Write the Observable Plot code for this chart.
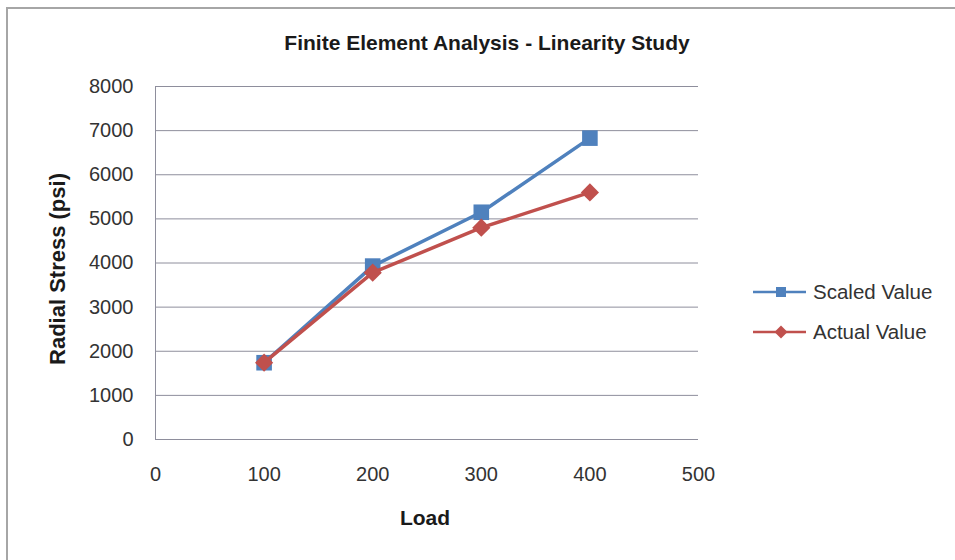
<!DOCTYPE html>
<html>
<head>
<meta charset="utf-8">
<script src="https://cdn.jsdelivr.net/npm/d3@7"></script>
<script src="https://cdn.jsdelivr.net/npm/@observablehq/plot@0.6"></script>
<style>
  html, body { margin: 0; padding: 0; background: #fff; }
  #wrap { position: relative; width: 955px; height: 560px; overflow: hidden; font-family: "Liberation Sans", Arial, sans-serif; }
  #frame { position: absolute; left: 6px; top: 7px; width: 1000px; height: 600px; border-left: 2px solid #a6a6a6; border-top: 2px solid #a6a6a6; box-sizing: border-box; }
  #chart { position: absolute; left: 0; top: 0; }
  .lbl { position: absolute; white-space: nowrap; color: #1a1a1a; font-weight: bold; font-size: 21px; }
  #title { left: 487px; top: 43px; transform: translate(-50%, -50%); }
  #xlabel { left: 425px; top: 518px; transform: translate(-50%, -50%); }
  #ylabel { left: 58px; top: 269px; font-size: 22px; transform: translate(-50%, -50%) rotate(-90deg); }
  #legend { position: absolute; left: 750px; top: 272px; }
  .leg { display: flex; align-items: center; height: 40px; font-size: 20.5px; color: #333; }
  .leg svg { margin-right: 5px; }
</style>
</head>
<body>
<div id="wrap">
  <div id="frame"></div>
  <div id="chart"></div>
  <div class="lbl" id="title">Finite Element Analysis - Linearity Study</div>
  <div class="lbl" id="xlabel">Load</div>
  <div class="lbl" id="ylabel">Radial Stress (psi)</div>
  <div id="legend"></div>
</div>
<script>
const loads = [100, 200, 300, 400];
const scaledValue = [1740, 3930, 5150, 6830];
const actualValue = [1740, 3780, 4800, 5600];
const seriesNames = ["Scaled Value", "Actual Value"];
const xTicks = [0, 100, 200, 300, 400, 500];
const yTicks = [0, 1000, 2000, 3000, 4000, 5000, 6000, 7000, 8000];

const blue = "#4f81bd";
const red = "#c0504d";

const scaled = loads.map((x, i) => ({x, y: scaledValue[i]}));
const actual = loads.map((x, i) => ({x, y: actualValue[i]}));

const chart = Plot.plot({
  width: 955,
  height: 560,
  marginLeft: 155,
  marginRight: 257,
  marginTop: 86,
  marginBottom: 121,
  style: {fontFamily: "'Liberation Sans', Arial, sans-serif", fontSize: "20px", color: "#333", background: "transparent", overflow: "visible"},
  x: {domain: [0, 500]},
  y: {domain: [0, 8000]},
  marks: [
    Plot.gridY(yTicks.filter(d => d > 0), {stroke: "#8e8e9c", strokeOpacity: 1, strokeWidth: 1}),
    Plot.ruleY([0], {stroke: "#8e8e9c"}),
    Plot.ruleX([0], {stroke: "#8e8e9c"}),
    Plot.axisX(xTicks, {tickSize: 0, tickPadding: 27, label: null, tickFormat: d => String(d), fill: "#333", fontSize: 20}),
    Plot.axisY(yTicks, {tickSize: 0, tickPadding: 22, label: null, tickFormat: d => String(d), fill: "#333", fontSize: 20}),
    Plot.line(scaled, {x: "x", y: "y", stroke: blue, strokeWidth: 3.5}),
    Plot.dot(scaled, {x: "x", y: "y", symbol: "square", r: 8.8, fill: blue, stroke: "none"}),
    Plot.line(actual, {x: "x", y: "y", stroke: red, strokeWidth: 3.5}),
    Plot.dot(actual, {x: "x", y: "y", symbol: "diamond2", r: 8.2, fill: red, stroke: "none"})
  ]
});
document.getElementById("chart").appendChild(chart);

// legend
const legend = d3.select("#legend");
[[seriesNames[0], blue, "square"], [seriesNames[1], red, "diamond"]].forEach(([name, col, sym]) => {
  const row = legend.append("div").attr("class", "leg");
  const s = row.append("svg").attr("width", 58).attr("height", 20);
  s.append("line").attr("x1", 3).attr("x2", 56).attr("y1", 10).attr("y2", 10).attr("stroke", col).attr("stroke-width", 2.5);
  if (sym === "square") {
    s.append("rect").attr("x", 26).attr("y", 5).attr("width", 10).attr("height", 10).attr("fill", col);
  } else {
    s.append("path").attr("d", "M31,3.5L37.5,10L31,16.5L24.5,10Z").attr("fill", col);
  }
  row.append("span").text(name);
});
</script>
</body>
</html>
